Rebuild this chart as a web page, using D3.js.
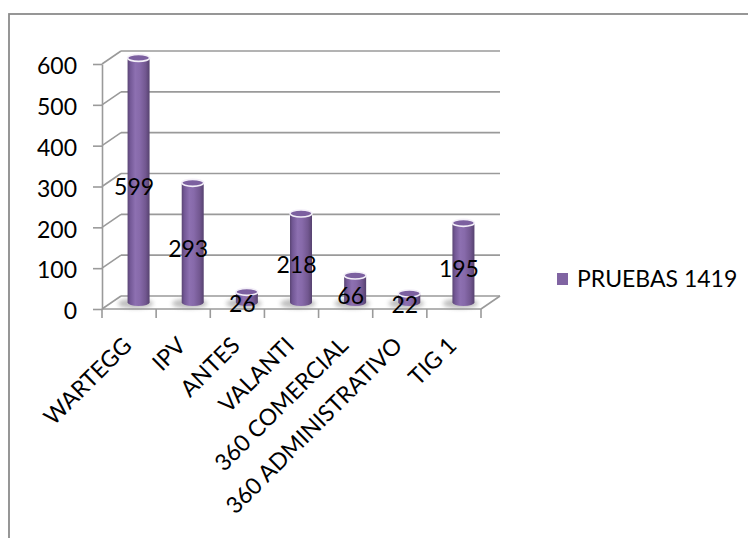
<!DOCTYPE html>
<html>
<head>
<meta charset="utf-8">
<script src="https://cdn.jsdelivr.net/npm/d3@7/dist/d3.min.js"></script>
<style>
  html, body { margin: 0; padding: 0; background: #fff; }
  svg { display: block; }
  text { font-family: Lato, "Open Sans", sans-serif; fill: #000; }
</style>
</head>
<body>
<svg id="chart" width="748" height="538"></svg>
<script>
// Data
const categories = ["WARTEGG", "IPV", "ANTES", "VALANTI", "360 COMERCIAL", "360 ADMINISTRATIVO", "TIG 1"];
const values = [599, 293, 26, 218, 66, 22, 195];
const seriesName = "PRUEBAS 1419";
const yTicks = [0, 100, 200, 300, 400, 500, 600];

const svg = d3.select("#chart");
const W = 748, H = 538;

// 3D depth offset of the back wall relative to the front plane
const depthX = 19, depthY = -13;

const x = d3.scaleBand().domain(categories).range([102, 481]).padding(0);
const y = d3.scaleLinear().domain([0, 600]).range([309, 64]);

const gridColor = "#9a9a9a";
const fontSize = 23;

// Chart area border
svg.append("rect")
  .attr("x", 9).attr("y", 14)
  .attr("width", W + 20).attr("height", H + 20)
  .attr("fill", "none").attr("stroke", "#8c8c8c").attr("stroke-width", 1.8);

const defs = svg.append("defs");
const grad = defs.append("linearGradient").attr("id", "cyl")
  .attr("x1", "0%").attr("x2", "100%").attr("y1", "0%").attr("y2", "0%");
[["0%", "#5a4574"], ["12%", "#735896"], ["35%", "#8d70b1"], ["55%", "#876aaa"],
 ["82%", "#725790"], ["100%", "#56426f"]].forEach(([o, c]) =>
  grad.append("stop").attr("offset", o).attr("stop-color", c));

defs.append("filter").attr("id", "soft")
  .attr("x", "-50%").attr("y", "-100%").attr("width", "200%").attr("height", "300%")
  .append("feGaussianBlur").attr("stdDeviation", 2);

// Back wall gridlines and left wall diagonals
const walls = svg.append("g");
const xL = x.range()[0], xR = x.range()[1];
yTicks.forEach(t => {
  walls.append("line")
    .attr("x1", xL + depthX).attr("x2", xR + depthX)
    .attr("y1", y(t) + depthY).attr("y2", y(t) + depthY)
    .attr("stroke", gridColor).attr("stroke-width", 1.6);
  walls.append("line")
    .attr("x1", xL).attr("x2", xL + depthX)
    .attr("y1", y(t)).attr("y2", y(t) + depthY)
    .attr("stroke", gridColor).attr("stroke-width", 1.6);
});

// Floor: front edge and right edge
walls.append("line")
  .attr("x1", xL).attr("x2", xR).attr("y1", y(0)).attr("y2", y(0))
  .attr("stroke", gridColor).attr("stroke-width", 1.6);
walls.append("line")
  .attr("x1", xR).attr("x2", xR + depthX).attr("y1", y(0)).attr("y2", y(0) + depthY)
  .attr("stroke", gridColor).attr("stroke-width", 1.6);

// Category tick marks below the floor
const edges = categories.map(c => x(c)).concat([x(categories[categories.length - 1]) + x.bandwidth()]);
svg.append("g").selectAll("line").data(edges).join("line")
  .attr("x1", d => d).attr("x2", d => d)
  .attr("y1", y(0)).attr("y2", y(0) + 9)
  .attr("stroke", gridColor).attr("stroke-width", 1.6);

// Value axis
const yAxis = svg.append("g")
  .attr("transform", `translate(${xL},0)`)
  .call(d3.axisLeft(y).tickValues(yTicks).tickSize(9).tickSizeOuter(0).tickPadding(16));
yAxis.selectAll("path, line").attr("stroke", gridColor).attr("stroke-width", 1.6);
yAxis.selectAll("text")
  .attr("font-size", fontSize).attr("dy", "0.42em")
  .style("font-family", "Lato, 'Open Sans', sans-serif").attr("fill", "#000");

// Cylinders
const bw = 22, ry = 3.5;
const bars = svg.append("g");
categories.forEach((c, i) => {
  const v = values[i];
  const cx = x(c) + x.bandwidth() / 2 + depthX / 2;
  const yb = y(0) + depthY / 2;
  const yt = y(v) + depthY / 2;
  const g = bars.append("g");
  g.append("ellipse")
    .attr("cx", cx - 3).attr("cy", yb + 1).attr("rx", bw * 0.8).attr("ry", 5)
    .attr("fill", "#8a8a8a").attr("opacity", 0.55).attr("filter", "url(#soft)");
  g.append("rect")
    .attr("x", cx - bw / 2).attr("y", yt).attr("width", bw).attr("height", yb - yt)
    .attr("fill", "url(#cyl)");
  g.append("ellipse")
    .attr("cx", cx).attr("cy", yb).attr("rx", bw / 2).attr("ry", ry)
    .attr("fill", "url(#cyl)");
  g.append("ellipse")
    .attr("cx", cx).attr("cy", yt).attr("rx", bw / 2).attr("ry", ry)
    .attr("fill", "#7c60a0").attr("stroke", "#f3eff8").attr("stroke-width", 1.6);
});

// Data labels
svg.append("g").selectAll("text").data(categories).join("text")
  .attr("x", c => x(c) + x.bandwidth() / 2 + 5)
  .attr("y", (c, i) => y(values[i] / 2))
  .attr("dy", "0.36em")
  .attr("text-anchor", "middle")
  .attr("font-size", fontSize)
  .text((c, i) => values[i]);

// Category labels, rotated
svg.append("g").selectAll("text").data(categories).join("text")
  .attr("text-anchor", "end")
  .attr("font-size", fontSize)
  .attr("transform", c => `translate(${x(c) + x.bandwidth() / 2 + 4},${y(0) + 38}) rotate(-45)`)
  .text(c => c);

// Legend
const lg = svg.append("g").attr("transform", "translate(557,273)");
lg.append("rect").attr("width", 11).attr("height", 12).attr("fill", "#8064a2");
lg.append("text").attr("x", 20).attr("y", 6).attr("dy", "0.36em")
  .attr("font-size", fontSize).text(seriesName);
</script>
</body>
</html>
